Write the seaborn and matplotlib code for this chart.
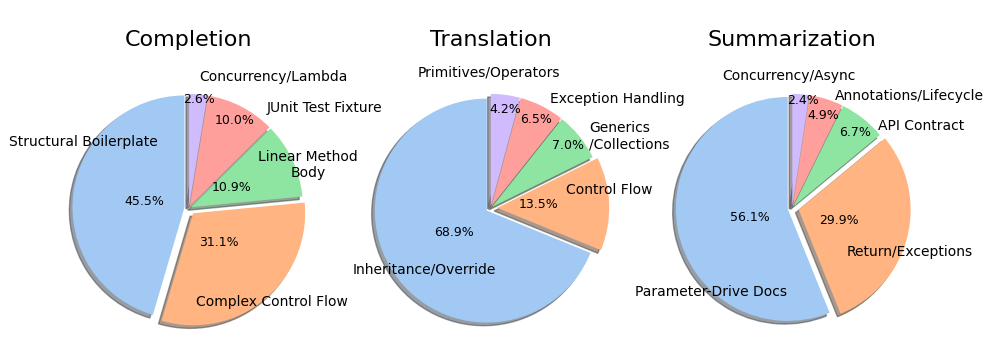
import numpy as np
import matplotlib.pyplot as plt
import seaborn as sns

# Data
titles = ['Completion', 'Translation', 'Summarization']

completion_labels = ['Structural Boilerplate', 'Complex Control Flow', 'Linear Method\nBody',
                     'JUnit Test Fixture', 'Concurrency/Lambda']
completion_values = [45.5, 31.1, 10.9, 10.0, 2.6]

translation_labels = ['Inheritance/Override', 'Control Flow', 'Generics\n/Collections',
                      'Exception Handling', 'Primitives/Operators']
translation_values = [68.9, 13.5, 7.0, 6.5, 4.2]

summarization_labels = ['Parameter-Drive Docs', 'Return/Exceptions', 'API Contract',
                        'Annotations/Lifecycle', 'Concurrency/Async']
summarization_values = [56.1, 29.9, 6.7, 4.9, 2.4]

# Label placement (pie radius = 1)
label_pos = [
    [(-0.946, 0.589), (0.741, -0.836), (1.062, 0.384), (1.214, 0.895), (0.754, 1.167)],
    [(-0.588, -0.545), (1.061, 0.161), (1.238, 0.643), (1.134, 0.973), (-0.013, 1.205)],
    [(-0.723, -0.75), (1.052, -0.395), (1.149, 0.734), (1.049, 0.998), (-0.027, 1.183)],
]
pct_pos = [
    [(-0.40, 0.06), (0.27, -0.31), (0.38, 0.18), (0.41, 0.78), (0.09, 0.97)],
    [(-0.33, -0.22), (0.427, 0.03), (0.695, 0.5625), (0.406, 0.795), (0.13, 0.878)],
    [(-0.38, -0.085), (0.42, -0.11), (0.5625, 0.677), (0.28, 0.826), (0.095, 0.96)],
]

colors = sns.color_palette('pastel')[:5]
explode = [0.04, 0.06, 0.02, 0.02, 0.02]

fig, axes = plt.subplots(1, 3, figsize=(9.97, 3.53), dpi=100)
plt.subplots_adjust(left=0.044, right=0.94, bottom=0.014, top=0.807, wspace=0.04)

datasets = [(completion_labels, completion_values),
            (translation_labels, translation_values),
            (summarization_labels, summarization_values)]

for i, (ax, (labels, values)) in enumerate(zip(axes, datasets)):
    total = sum(values)
    # show the given shares (the values already are percentages)
    wedges, texts, autotexts = ax.pie(values, labels=labels, colors=colors, explode=explode,
                                      autopct=lambda p, t=total: f'{p * t / 100:.1f}%',
                                      startangle=90, shadow=True,
                                      textprops={'fontsize': 10})
    for t, pos in zip(texts, label_pos[i]):
        t.set_position(pos)
        t.set_ha('center')
        t.set_va('center')
        if t.get_text().startswith('Generics'):
            t.set_multialignment('left')
    for t, pos in zip(autotexts, pct_pos[i]):
        t.set_position(pos)
        t.set_fontsize(9)
    ax.set_title(titles[i], fontsize=16, pad=16)

plt.savefig('out.png', dpi=100)
